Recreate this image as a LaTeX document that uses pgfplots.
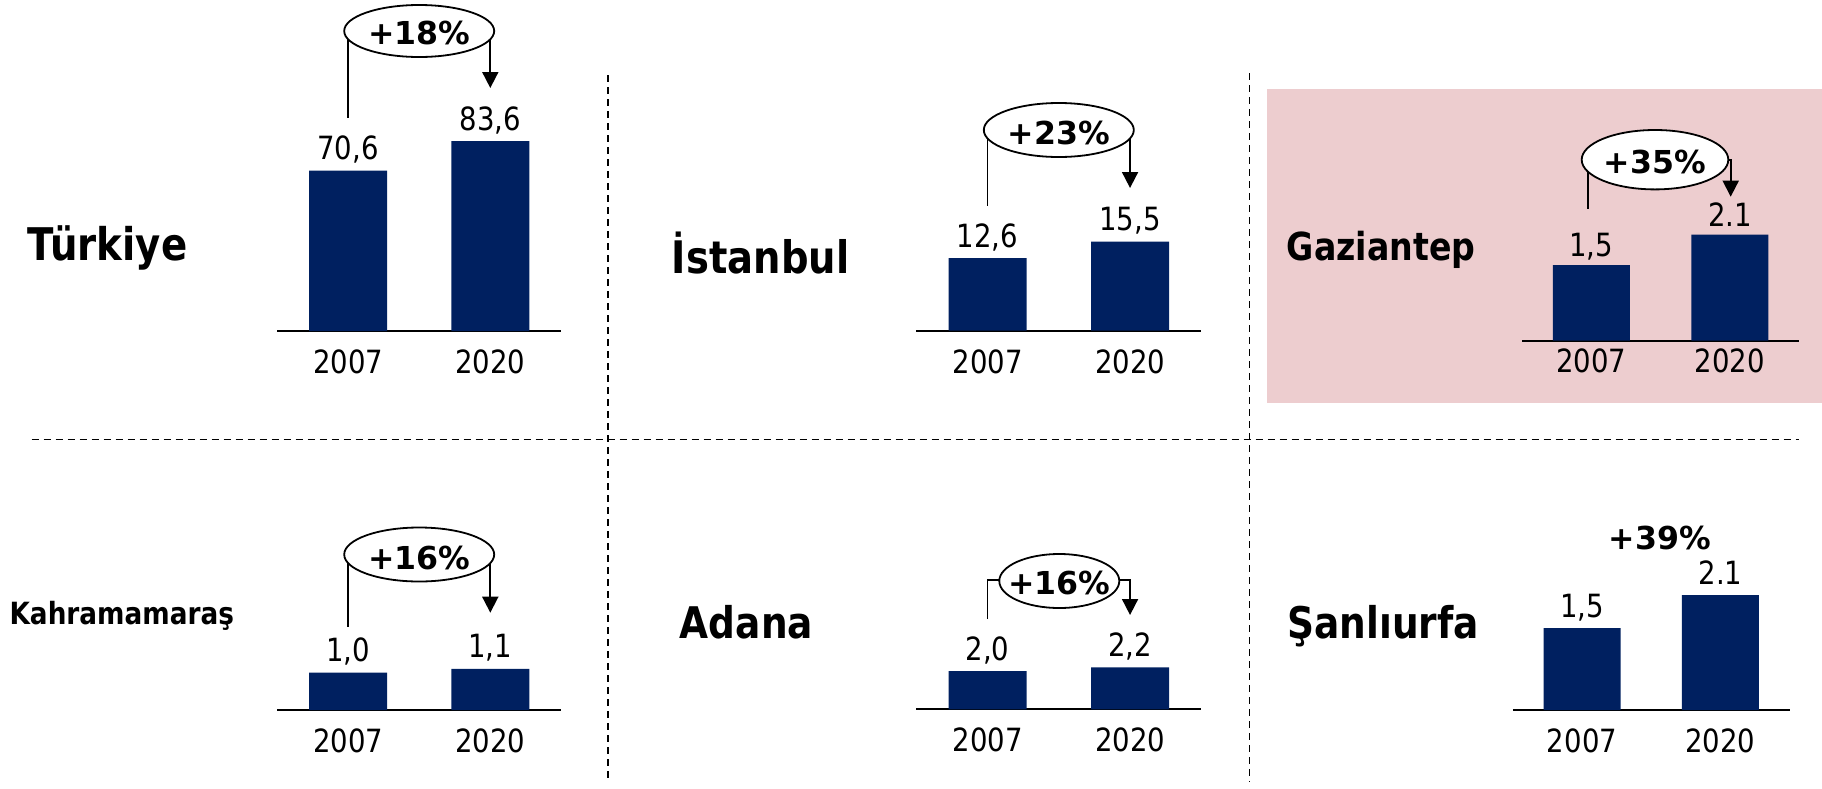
\documentclass[border=0pt]{standalone}
\usepackage{fontspec}
\setmainfont{DejaVu Sans}[FakeStretch=0.86]
\newfontfamily\pctfamily{DejaVu Sans}
\usepackage{pgfplots}
\pgfplotsset{compat=1.18}
\usetikzlibrary{arrows.meta}
\definecolor{navy}{RGB}{0,32,96}
\definecolor{pinkbg}{RGB}{237,205,207}

\newcommand\labfont{\fontsize{16}{19}\selectfont}
\newcommand\pctfont{\pctfamily\bfseries\fontsize{15.8}{18}\selectfont}
\newcommand\cityfont[1]{\fontsize{#1}{#1}\selectfont\bfseries}

\pgfplotsset{
  panel/.style={
    anchor=south west, xmin=-0.5, xmax=1.5, ymin=0,
    axis x line=bottom, axis y line=none, ytick=\empty,
    axis line style={-, line width=1pt, black},
    every outer x axis line/.append style={-},
    every inner x axis line/.append style={-},
    xtick={0,1}, xticklabels={2007,2020}, major tick length=0pt,
    xticklabel style={anchor=center, yshift=-15.5pt, font=\labfont, inner sep=0pt},
    clip=false,
    nodes near coords, point meta=explicit symbolic,
    nodes near coords style={font=\labfont, anchor=base, yshift=5.5pt, inner sep=0pt, text=black},
  },
  barplot/.style={ybar, bar width=39pt, bar shift=0pt, fill=navy, draw=none},
}

\begin{document}
\begin{tikzpicture}
\begin{scope}[x=0.5pt,y=-0.5pt]
  \path[use as bounding box] (0,0) rectangle (1822,788);
  \fill[pinkbg] (1266.7,89.3) rectangle (1822,402.7);
  \coordinate (p1) at (277,331);
  \coordinate (p2) at (916.3,330.5);
  \coordinate (p3) at (1522,340.7);
  \coordinate (p4) at (277,710);
  \coordinate (p5) at (916.3,709.3);
  \coordinate (p6) at (1512.8,710);
  \begin{scope}[line width=0.8pt, dash pattern=on 3.5pt off 2.5pt]
    \draw (31.6,439.3) -- (1798.6,439.3);
    \draw (607.8,75) -- (607.8,782);
    \draw (1249.3,73) -- (1249.3,782);
  \end{scope}
\end{scope}

% Türkiye
\begin{axis}[panel, at={(p1)}, x=71.1pt, y=1.135pt, ymax=100]
\addplot[barplot] table[meta=lab, row sep=\\] {x y lab\\ 0 70.6 70,6\\ 1 83.6 83,6\\};
\end{axis}
% Istanbul
\begin{axis}[panel, at={(p2)}, x=71.25pt, y=2.87pt, ymax=25]
\addplot[barplot] table[meta=lab, row sep=\\] {x y lab\\ 0 12.6 12,6\\ 1 15.5 15,5\\};
\end{axis}
% Gaziantep
\begin{axis}[panel, at={(p3)}, x=69.3pt, y=25.23pt, ymax=3,
  xticklabel style={yshift=5.35pt},
  nodes near coords style={yshift=-1.25pt}]
\addplot[barplot, bar width=38.5pt] table[meta=lab, row sep=\\] {x y lab\\ 0 1.5 1,5\\ 1 2.1 2.1\\};
\end{axis}
% Kahramanmaras
\begin{axis}[panel, at={(p4)}, x=71.1pt, y=18.68pt, ymax=3]
\addplot[barplot] table[meta=lab, row sep=\\] {x y lab\\ 0 1.0 1,0\\ 1 1.1 1,1\\};
\end{axis}
% Adana
\begin{axis}[panel, at={(p5)}, x=71.25pt, y=9.525pt, ymax=4]
\addplot[barplot] table[meta=lab, row sep=\\] {x y lab\\ 0 2.0 2,0\\ 1 2.2 2,2\\};
\end{axis}
% Sanliurfa
\begin{axis}[panel, at={(p6)}, x=69.2pt, y=27.33pt, ymax=3]
\addplot[barplot, bar width=38.5pt] table[meta=lab, row sep=\\] {x y lab\\ 0 1.5 1,5\\ 1 2.1 2.1\\};
\end{axis}

\begin{scope}[x=0.5pt,y=-0.5pt, line width=0.9pt]
  % city labels
  \node[anchor=base west, inner sep=0pt, font=\cityfont{22.5}] at (26.7,260) {Türkiye};
  \node[anchor=base west, inner sep=0pt, font=\cityfont{22.4}] at (671,273) {İstanbul};
  \node[anchor=base west, inner sep=0pt, font=\cityfont{19.3}] at (1286,260) {Gaziantep};
  \node[anchor=base west, inner sep=0pt, font=\cityfont{15.3}] at (8.7,624) {Kahramamaraş};
  \node[anchor=base west, inner sep=0pt, font=\cityfont{21.8}] at (679,638) {Adana};
  \node[anchor=base west, inner sep=0pt, font=\cityfont{21.8}] at (1286.4,638) {Şanlıurfa};

  % Türkiye growth
  \draw[fill=white] (419.2,31) ellipse [x radius=37.5pt, y radius=13pt];
  \node[font=\pctfont] at (419.2,33) {+18\%};
  \draw (348.1,39.3) -- (348.1,118);
  \draw[-{Triangle[width=8pt,length=8pt]}] (490.3,39.3) -- (490.3,88);

  % Istanbul growth
  \draw[fill=white] (1058.8,130) ellipse [x radius=37.5pt, y radius=13.5pt];
  \node[font=\pctfont] at (1058.8,133) {+23\%};
  \draw (987.55,138.6) -- (987.55,206);
  \draw[-{Triangle[width=8pt,length=8pt]}] (1130.05,138.6) -- (1130.05,188);

  % Gaziantep growth
  \draw[fill=white] (1655,159.7) ellipse [x radius=36.65pt, y radius=14.85pt];
  \node[font=\pctfont] at (1655,161.7) {+35\%};
  \draw (1588,171.7) -- (1588,209.3);
  \draw[-{Triangle[width=8pt,length=8pt]}] (1728.3,160) -- (1730.7,160) -- (1730.7,196.7);

  % Kahramanmaras growth
  \draw[fill=white] (419.2,554.5) ellipse [x radius=37.5pt, y radius=13.5pt];
  \node[font=\pctfont] at (419.2,557.5) {+16\%};
  \draw (348.1,563) -- (348.1,626.7);
  \draw[-{Triangle[width=8pt,length=8pt]}] (490.3,563) -- (490.3,612.7);

  % Adana growth
  \draw[fill=white] (1059.3,581) ellipse [x radius=30pt, y radius=13.5pt];
  \node[font=\pctfont] at (1059.3,582.5) {+16\%};
  \draw (987.55,619) -- (987.55,580) -- (999.3,580);
  \draw[-{Triangle[width=8pt,length=8pt]}] (1119.3,580) -- (1130.05,580) -- (1130.05,615);

  % Sanliurfa growth
  \node[font=\pctfont] at (1660,537.5) {+39\%};
\end{scope}
\end{tikzpicture}
\end{document}
